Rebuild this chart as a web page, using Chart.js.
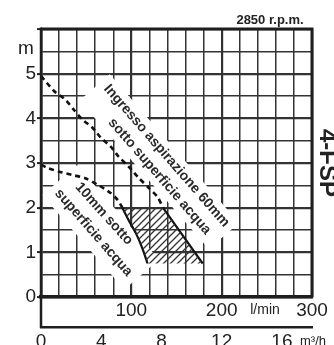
<!DOCTYPE html>
<html>
<head>
<meta charset="utf-8">
<script src="https://cdn.jsdelivr.net/npm/chart.js@4"></script>
<style>
html,body{margin:0;padding:0;background:#fff;}
#wrap{width:334px;height:345px;position:relative;}
</style>
</head>
<body>
<div id="wrap"><canvas id="c" width="334" height="345"></canvas></div>
<script>
// ---- data (l/min, m) ----
const inletDashX = [0, 15, 27, 36, 46, 57, 66, 77, 86, 97, 108, 119, 129, 135];
const inletDashY = [4.95, 4.6, 4.42, 4.2, 3.97, 3.79, 3.57, 3.37, 3.14, 2.92, 2.67, 2.45, 2.24, 2.0];
const inletSolidX = [135, 179];
const inletSolidY = [2.0, 0.75];
const shallowDashX = [0, 7, 21, 35, 49, 63, 77, 85, 90];
const shallowDashY = [2.96, 2.89, 2.8, 2.73, 2.66, 2.51, 2.33, 2.17, 2.0];
const shallowSolidX = [90, 97, 105, 112, 118];
const shallowSolidY = [2.0, 1.72, 1.43, 1.1, 0.75];
const hatchX = [90, 135, 179, 118, 112, 105, 97, 90];
const hatchY = [2.0, 2.0, 0.75, 0.75, 1.1, 1.43, 1.72, 2.0];
const yTickLabels = [0, 1, 2, 3, 4, 5];
const xTickLabels = [100, 200, 300];
const x2TickLabels = [0, 4, 8, 12, 16];

// annotations: [text, x(l/min), y(m), angle deg]
const notes = [
  ['Ingresso aspirazione 60mm', 138.9, 3.16, 49],
  ['sotto superficie acqua', 131.2, 2.70, 49],
  ['10mm sotto', 69.7, 1.86, 48],
  ['superficie acqua', 58.1, 1.44, 49]
];
// white bands behind annotations: [x, y, width px, height px, angle]
const bands = [
  [130.9, 3.03, 197, 40, 49],
  [66.1, 1.56, 125, 46, 49]
];

const pts = (xs, ys) => xs.map((x, i) => ({x: x, y: ys[i]}));

function makePattern() {
  const s = 7;
  const p = document.createElement('canvas');
  p.width = s; p.height = s;
  const g = p.getContext('2d');
  g.strokeStyle = '#333';
  g.lineWidth = 1.3;
  g.beginPath();
  g.moveTo(0, s); g.lineTo(s, 0);
  g.moveTo(-1, 1); g.lineTo(1, -1);
  g.moveTo(s - 1, s + 1); g.lineTo(s + 1, s - 1);
  g.stroke();
  return document.getElementById('c').getContext('2d').createPattern(p, 'repeat');
}

const FONT = "'Liberation Sans', Arial, sans-serif";

const deco = {
  id: 'deco',
  beforeDatasetsDraw(chart) {
    const {ctx, chartArea: a, scales} = chart;
    ctx.save();
    ctx.beginPath();
    ctx.rect(a.left + 1, a.top + 1, a.right - a.left - 2, a.bottom - a.top - 2);
    ctx.clip();
    ctx.fillStyle = '#fff';
    bands.forEach(b => {
      const px = scales.x.getPixelForValue(b[0]);
      const py = scales.y.getPixelForValue(b[1]);
      ctx.save();
      ctx.translate(px, py);
      ctx.rotate(b[4] * Math.PI / 180);
      ctx.fillRect(-b[2] / 2, -b[3] / 2, b[2], b[3]);
      ctx.restore();
    });
    ctx.restore();
  },
  afterDatasetsDraw(chart) {
    const {ctx, chartArea: a, scales} = chart;
    ctx.save();
    ctx.fillStyle = '#2a2a2a';
    ctx.font = 'bold 14px ' + FONT;
    ctx.textAlign = 'center';
    ctx.textBaseline = 'middle';
    notes.forEach(n => {
      const px = scales.x.getPixelForValue(n[1]);
      const py = scales.y.getPixelForValue(n[2]);
      ctx.save();
      ctx.translate(px, py);
      ctx.rotate(n[3] * Math.PI / 180);
      ctx.fillText(n[0], 0, 0);
      ctx.restore();
    });
    // frame
    ctx.strokeStyle = '#1e1e1e';
    ctx.lineWidth = 3;
    ctx.beginPath();
    ctx.moveTo(a.left, a.top);
    ctx.lineTo(a.right, a.top);
    ctx.lineTo(a.right, a.bottom);
    ctx.stroke();
    ctx.lineWidth = 2.5;
    ctx.beginPath();
    ctx.moveTo(a.left, a.top - 1.5);
    ctx.lineTo(a.left, scales.x2.top + 1);
    ctx.stroke();
    // texts
    ctx.fillStyle = '#222';
    ctx.textAlign = 'left';
    ctx.textBaseline = 'alphabetic';
    ctx.font = '19px ' + FONT;
    ctx.fillText('m', 18, 54);
    ctx.font = 'bold 13px ' + FONT;
    ctx.textAlign = 'center';
    ctx.fillText('2850 r.p.m.', 270, 24);
    ctx.font = '14px ' + FONT;
    ctx.fillText('l/min', 265, 314);
    ctx.textAlign = 'left';
    ctx.font = '13px ' + FONT;
    ctx.fillText('m\u00b3/h', 300, 345);
    ctx.save();
    ctx.translate(320, 163);
    ctx.rotate(Math.PI / 2);
    ctx.font = 'bold 24px ' + FONT;
    ctx.textAlign = 'center';
    ctx.textBaseline = 'alphabetic';
    ctx.fillText('4-FSP', 0, 0);
    ctx.restore();
    ctx.restore();
  }
};

const pattern = makePattern();
const line = (xs, ys, dash, w) => ({
  data: pts(xs, ys), borderColor: '#111', borderWidth: w, borderDash: dash,
  pointRadius: 0, fill: false, tension: 0.25, borderCapStyle: 'butt'
});

new Chart(document.getElementById('c'), {
  type: 'line',
  data: {
    datasets: [
      {data: pts(hatchX, hatchY), borderWidth: 0, borderColor: 'rgba(0,0,0,0)', pointRadius: 0,
       fill: 'shape', backgroundColor: pattern, tension: 0},
      line(inletDashX, inletDashY, [5, 4], 2.6),
      line(inletSolidX, inletSolidY, [], 2.2),
      line(shallowDashX, shallowDashY, [5, 4], 2.6),
      line(shallowSolidX, shallowSolidY, [], 2.2)
    ]
  },
  options: {
    responsive: false,
    animation: false,
    devicePixelRatio: 1,
    layout: {padding: {top: 29, right: 22, left: 0, bottom: 0}},
    plugins: {legend: {display: false}, tooltip: {enabled: false}},
    scales: {
      x: {
        type: 'linear', min: 0, max: 300, position: 'bottom', weight: 0,
        ticks: {stepSize: 20, autoSkip: false, maxRotation: 0, padding: 2, color: '#222',
          font: {size: 19, family: FONT},
          callback: v => xTickLabels.includes(v) ? String(v) : ''},
        grid: {color: '#333', drawTicks: false,
          lineWidth: c => (c.tick && c.tick.value % 100 === 0) ? 2.2 : 1.5},
        border: {color: '#1e1e1e', width: 3.5},
        afterFit: s => { s.height = 30; }
      },
      x2: {
        type: 'linear', min: 0, max: 18, position: 'bottom', weight: 1,
        afterBuildTicks: s => { s.ticks = x2TickLabels.map(v => ({value: v})); },
        ticks: {autoSkip: false, maxRotation: 0, padding: 3, color: '#222',
          font: {size: 19, family: FONT},
          callback: v => String(v)},
        grid: {display: false, drawTicks: false},
        border: {display: true, color: '#1e1e1e', width: 2.5},
        afterFit: s => { s.height = 18; }
      },
      y: {
        type: 'linear', min: 0, max: 6,
        ticks: {stepSize: 0.5, autoSkip: false, padding: 1, color: '#222',
          font: {size: 19, family: FONT},
          callback: v => yTickLabels.includes(v) ? String(v) : ''},
        grid: {color: '#333', tickLength: 4,
          lineWidth: c => (c.tick && Number.isInteger(c.tick.value)) ? 2.2 : 1.5,
          tickColor: c => (c.tick && Number.isInteger(c.tick.value)) ? '#222' : 'rgba(0,0,0,0)',
          tickWidth: 2},
        border: {color: '#1e1e1e', width: 2.5},
        afterFit: s => { s.width = 41; }
      }
    }
  },
  plugins: [deco]
});
</script>
</body>
</html>
